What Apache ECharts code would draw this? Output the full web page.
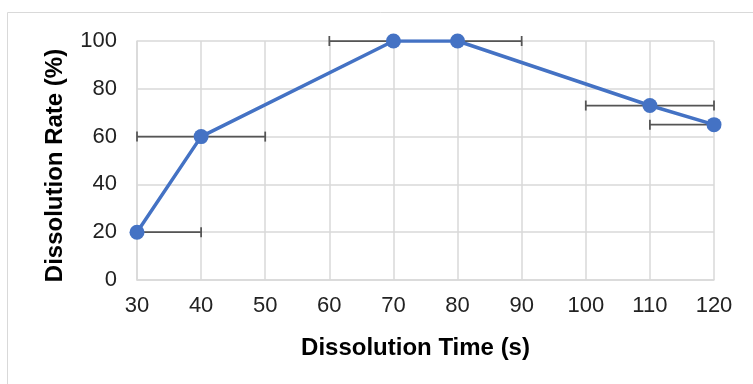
<!DOCTYPE html>
<html>
<head>
<meta charset="utf-8">
<script src="https://cdn.jsdelivr.net/npm/echarts@6/dist/echarts.min.js"></script>
<style>
  html, body { margin: 0; padding: 0; background: #fff; }
  #chart { width: 753px; height: 384px; }
</style>
</head>
<body>
<div id="chart"></div>
<script>
// dissolution data
const timeValues = [30, 40, 70, 80, 110, 120];
const rateValues = [20, 60, 100, 100, 73, 65];
const timeErrMinus = [10, 10, 10, 10, 10, 10];
const timeErrPlus = [10, 10, 10, 10, 10, 10];

const X_MIN = 30, X_MAX = 120;

const lineData = timeValues.map((t, i) => [t, rateValues[i]]);
const errData = timeValues.map((t, i) => [t, rateValues[i], t - timeErrMinus[i], t + timeErrPlus[i]]);

const myChart = echarts.init(document.getElementById('chart'));

// 水平误差线, clipped to the axis range like Excel does
function renderErr(params, api) {
  const y = api.value(1);
  const lo = api.value(2), hi = api.value(3);
  const a = Math.max(lo, X_MIN), b = Math.min(hi, X_MAX);
  const p1 = api.coord([a, y]);
  const p2 = api.coord([b, y]);
  const style = { stroke: '#555', lineWidth: 1.75 };
  const children = [{
    type: 'line',
    shape: { x1: p1[0], y1: p1[1], x2: p2[0], y2: p2[1] },
    style
  }];
  const cap = 5;
  if (lo >= X_MIN) {
    children.push({ type: 'line', shape: { x1: p1[0], y1: p1[1] - cap, x2: p1[0], y2: p1[1] + cap }, style });
  }
  if (hi <= X_MAX) {
    children.push({ type: 'line', shape: { x1: p2[0], y1: p2[1] - cap, x2: p2[0], y2: p2[1] + cap }, style });
  }
  return { type: 'group', children };
}

const labelFont = 'Liberation Sans, Arial, sans-serif';

const option = {
  animation: false,
  graphic: [{
    type: 'rect',
    shape: { x: 7.5, y: 12.5, width: 800, height: 400 },
    style: { fill: 'none', stroke: '#d9d9d9', lineWidth: 1 },
    silent: true
  }],
  grid: { left: 137, right: 39, top: 41, bottom: 104 },
  xAxis: {
    type: 'value',
    min: X_MIN,
    max: X_MAX,
    interval: 10,
    name: 'Dissolution Time (s)',
    nameLocation: 'middle',
    nameGap: 56,
    nameTextStyle: {
      fontFamily: labelFont, fontSize: 24, fontWeight: 'bold', color: '#000',
      padding: [0, 20, 0, 0]
    },
    axisLine: { show: true, lineStyle: { color: '#d9d9d9', width: 1.5 } },
    axisTick: { show: false },
    axisLabel: { fontFamily: labelFont, fontSize: 22, color: '#222', margin: 15 },
    splitLine: { show: true, lineStyle: { color: '#d9d9d9', width: 1.5 } }
  },
  yAxis: {
    type: 'value',
    min: 0,
    max: 100,
    interval: 20,
    name: 'Dissolution Rate (%)',
    nameLocation: 'middle',
    nameGap: 70,
    nameTextStyle: {
      fontFamily: labelFont, fontSize: 24, fontWeight: 'bold', color: '#000',
      padding: [0, 10, 0, 0]
    },
    axisLine: { show: true, lineStyle: { color: '#d9d9d9', width: 1.5 } },
    axisTick: { show: false },
    axisLabel: { fontFamily: labelFont, fontSize: 22, color: '#222', margin: 20 },
    splitLine: { show: true, lineStyle: { color: '#d9d9d9', width: 1.5 } }
  },
  series: [
    {
      type: 'custom',
      data: errData,
      renderItem: renderErr,
      encode: { x: 0, y: 1 },
      z: 1,
      silent: true
    },
    {
      type: 'line',
      data: lineData,
      symbol: 'circle',
      symbolSize: 15,
      lineStyle: { color: '#4472C4', width: 3.5 },
      itemStyle: { color: '#4472C4' },
      z: 3
    }
  ]
};

myChart.setOption(option);
</script>
</body>
</html>
